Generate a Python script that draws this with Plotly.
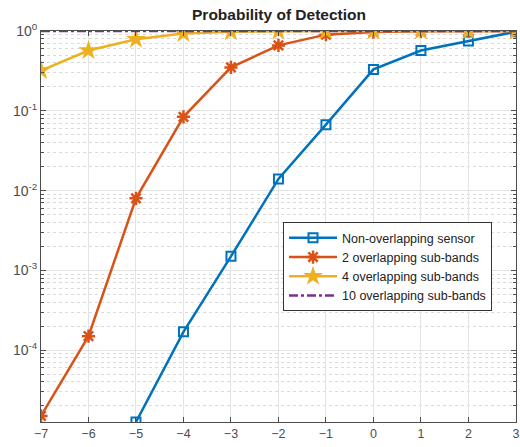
import plotly.graph_objects as go
import numpy as np

snr = [-7, -6, -5, -4, -3, -2, -1, 0, 1, 2, 3]
non_overlap = [None, None, 1.26e-5, 1.7e-4, 1.5e-3, 0.014, 0.067, 0.33, 0.57, 0.75, 0.98]
two_sub = [1.5e-5, 1.5e-4, 0.008, 0.084, 0.35, 0.66, 0.9, 0.97, 0.99, 1.0, 1.0]
four_sub = [0.32, 0.57, 0.79, 0.93, 0.98, 0.995, 1.0, 1.0, 1.0, 1.0, 1.0]
ten_sub = [1.0] * 11
names = ["Non-overlapping sensor", "2 overlapping sub-bands", "4 overlapping sub-bands", "10 overlapping sub-bands"]
ytick_vals = [1e-4, 1e-3, 1e-2, 1e-1, 1]
ytick_text = ["10<sup>-4</sup>", "10<sup>-3</sup>", "10<sup>-2</sup>", "10<sup>-1</sup>", "10<sup>0</sup>"]

fig = go.Figure()
fig.add_trace(go.Scatter(x=snr, y=non_overlap, name=names[0], mode="lines+markers",
                         line=dict(color="#0072BD", width=2.5),
                         marker=dict(symbol="square-open", size=9, line=dict(width=2, color="#0072BD"))))
fig.add_trace(go.Scatter(x=snr, y=two_sub, name=names[1], mode="lines+markers",
                         line=dict(color="#D95319", width=2.5),
                         marker=dict(symbol="asterisk-open", size=11, line=dict(width=2.5, color="#D95319"))))
fig.add_trace(go.Scatter(x=snr, y=four_sub, name=names[2], mode="lines+markers",
                         line=dict(color="#EDB120", width=2.5),
                         marker=dict(symbol="star", size=15, color="#EDB120")))
fig.add_trace(go.Scatter(x=snr, y=ten_sub, name=names[3], mode="lines",
                         line=dict(color="#7E2F8E", width=2.5, dash="dashdot")))

minor_vals = []
for e in range(-5, 0):
    for m in range(2, 10):
        minor_vals.append(m * 10.0 ** e)

fig.update_layout(
    width=520, height=447,
    margin=dict(l=41, r=4, t=31, b=25, autoexpand=False),
    plot_bgcolor="white", paper_bgcolor="white",
    font=dict(family="Liberation Sans, Arial, sans-serif", size=12.5, color="#4d4d4d"),
    title=dict(text="<b>Probability of Detection</b>", x=279 / 520, xanchor="center",
               y=1 - 14.5 / 447, yanchor="middle", font=dict(size=15.5, color="#222222")),
    legend=dict(x=0.5095, y=0.511, xanchor="left", yanchor="top",
                bgcolor="white", bordercolor="#333333", borderwidth=1,
                font=dict(size=12.5, color="#222222"), tracegroupgap=0, itemwidth=48),
    showlegend=True,
)
fig.update_xaxes(range=[-7, 3.002], tickvals=snr, ticks="inside", ticklen=5, tickcolor="#4d4d4d",
                 showline=True, linecolor="#4d4d4d", linewidth=1, mirror="ticks", automargin=False,
                 showgrid=True, gridcolor="#e3e3e3", gridwidth=1, zeroline=False,
                 ticklabeloverflow="allow", tickfont=dict(size=12.5))
fig.update_yaxes(type="log", range=[np.log10(1.26e-5), 0], tickvals=ytick_vals, ticktext=ytick_text,
                 ticks="inside", ticklen=5, tickcolor="#4d4d4d", automargin=False,
                 showline=True, linecolor="#4d4d4d", linewidth=1, mirror="ticks",
                 showgrid=True, gridcolor="#e3e3e3", gridwidth=1, zeroline=False,
                 ticklabeloverflow="allow", tickfont=dict(size=14),
                 minor=dict(tickvals=minor_vals, ticks="inside", ticklen=3, tickcolor="#4d4d4d",
                            showgrid=True, gridcolor="#dadada", griddash="dot", gridwidth=1))

fig.write_html("out.html", config={"displayModeBar": False},
               post_script="document.body.style.margin='0';document.body.style.overflow='hidden';")
